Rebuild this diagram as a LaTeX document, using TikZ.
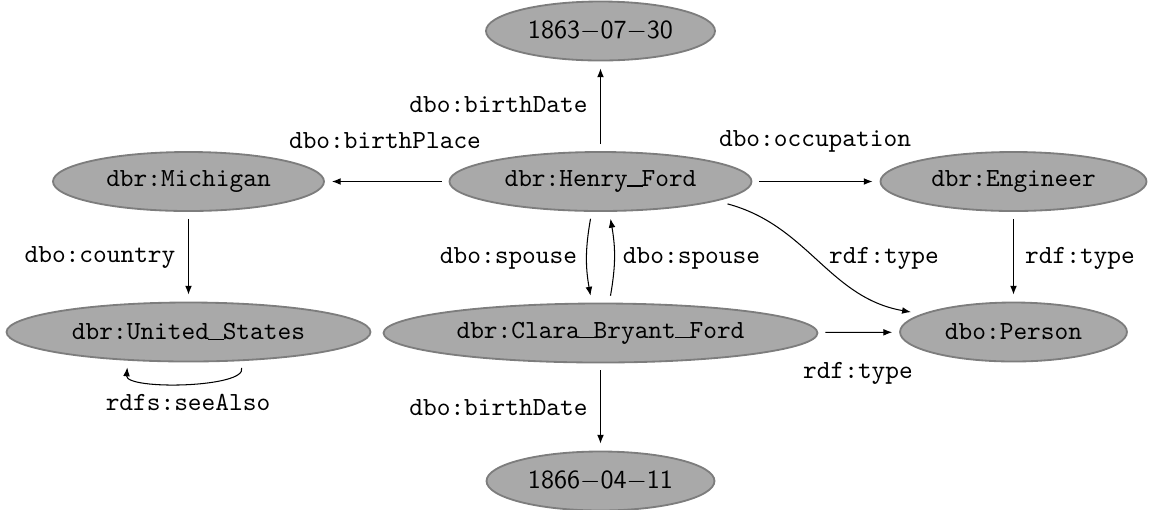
\documentclass[tikz,border=0pt]{standalone}
\usetikzlibrary{shapes.geometric,arrows.meta}
\definecolor{nodefill}{RGB}{169,169,169}
\definecolor{nodeline}{RGB}{125,125,125}
% low rule used as the underscore in resource names
\newcommand\us{\makebox[0.525em]{\rule{0.62em}{0.4pt}}}
% ISO dates in sans serif with minus-style dashes
\newcommand\isodate[3]{$\mathsf{#1{-}#2{-}#3}$}
\begin{document}
\begin{tikzpicture}[x=0.383pt,y=-0.383pt,
  res/.style={ellipse,draw=nodeline,fill=nodefill,line width=0.7pt,
    inner sep=0pt,outer sep=3pt,minimum height=22.6pt,font=\ttfamily},
  rel/.style={font=\ttfamily,anchor=base,inner sep=0pt},
  link/.style={-{Latex[length=3.4pt,width=2.6pt]},line width=0.4pt},
]
\useasboundingbox (0,0) rectangle (1149,509);

% resources
\node[res,minimum width=87.7pt]  (d1863)    at (600.5,31)    {\isodate{1863}{07}{30}};
\node[res,minimum width=115.7pt] (henry)    at (600.5,181.5) {dbr:Henry\us Ford};
\node[res,minimum width=103.8pt] (michigan) at (188.5,181.5) {dbr:Michigan};
\node[res,minimum width=101.9pt] (engineer) at (1013.5,181.5){dbr:Engineer};
\node[res,minimum width=139.4pt] (us)       at (188.5,332)   {dbr:United\us States};
\node[res,minimum width=166.2pt] (clara)    at (600.5,333)   {dbr:Clara\us Bryant\us Ford};
\node[res,minimum width=86.9pt]  (person)   at (1013.5,332)  {dbo:Person};
\node[res,minimum width=87.3pt]  (d1866)    at (600.5,481)   {\isodate{1866}{04}{11}};

% properties
\draw[link] (henry) -- (d1863);
\draw[link] (henry) -- (michigan);
\draw[link] (henry) -- (engineer);
\draw[link] (henry.-10) to[out=-15,in=170] (person.169);
\draw[link] (michigan) -- (us);
\draw[link] (engineer) -- (person);
\draw[link] (henry.-105) to[bend right=10] (clara.105);
\draw[link] (clara.75) to[bend right=10] (henry.-75);
\draw[link] (clara) -- (person);
\draw[link] (clara) -- (d1866);
\draw[link] (us.-34) .. controls +(6,20) and +(-2,23) .. (us.-150);

% property labels
\node[rel] (lbirth1)   at (498.5,112) {dbo:birthDate};
\node[rel] (lplace)    at (385,148)   {dbo:birthPlace};
\node[rel] (loccup)    at (815,146)   {dbo:occupation};
\node[rel] (lcountry)  at (100,262)   {dbo:country};
\node[rel] (lspouse1)  at (508.5,263) {dbo:spouse};
\node[rel] (lspouse2)  at (691.5,263) {dbo:spouse};
\node[rel] (ltype1)    at (884,263)   {rdf:type};
\node[rel] (ltype2)    at (1080,263)  {rdf:type};
\node[rel] (ltype3)    at (858,378)   {rdf:type};
\node[rel] (lbirth2)   at (498.5,415) {dbo:birthDate};
\node[rel] (lsee)      at (188,410)   {rdfs:seeAlso};
\end{tikzpicture}
\end{document}
